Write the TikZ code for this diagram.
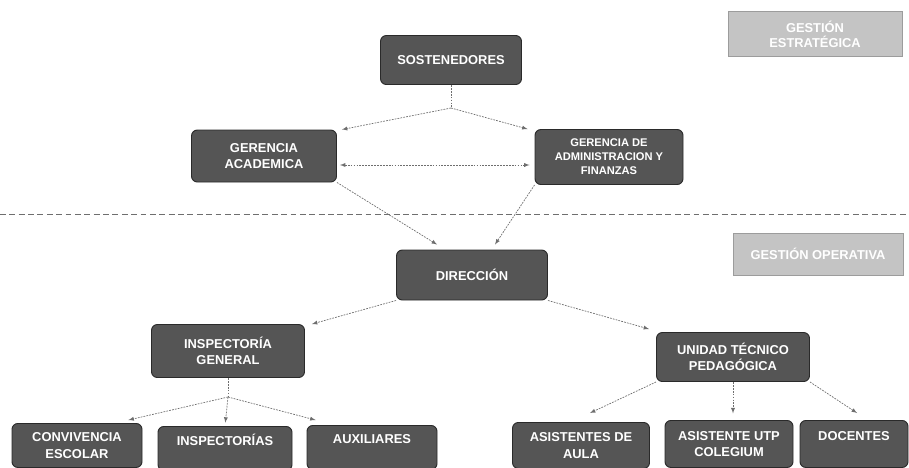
\documentclass[tikz,border=0pt]{standalone}
\usepackage{fontspec}
\setmainfont{Liberation Sans}
\usepackage{xcolor}
\usepackage{tikz}
\usetikzlibrary{shapes,arrows,positioning,fit,backgrounds}

\definecolor{boxgray}{HTML}{555555}
\definecolor{boxedge}{HTML}{2A2A2A}
\definecolor{taggray}{HTML}{C4C4C4}
\definecolor{tagedge}{HTML}{9C9C9C}
\definecolor{linegray}{HTML}{6E6E6E}

\begin{document}
\begin{tikzpicture}[x=0.03cm, y=-0.03cm,
        % Define styles for the chart
        dims/.style 2 args={
            minimum width=#1*0.03cm,
            minimum height=#2*0.03cm
        },
        box/.style={
            draw=boxedge,
            fill=boxgray,
            rectangle,
            thick,
            rounded corners=5pt,
            inner sep=1pt,
            align=center,
            text=white,
            font=\bfseries\fontsize{11}{14}\selectfont
        },
        leaf/.style={
            box,
            anchor=north
        },
        tag/.style={
            draw=tagedge,
            fill=taggray,
            rectangle,
            align=center,
            text=white,
            font=\bfseries\fontsize{11}{13}\selectfont
        },
        link/.style={
            draw=linegray,
            line width=0.6pt,
            dash pattern=on 1.5pt off 1pt
        },
        arrow/.style={
            link,
            ->,
            >=latex
        },
        separator/.style={
            draw=linegray,
            line width=0.7pt,
            dash pattern=on 5pt off 3pt
        }
    ]

    \useasboundingbox (0,0) rectangle (909,467);

    % Place management level
    \node[box, dims={141}{49}] (sost) at (451,60) {SOSTENEDORES};
    \node[box, dims={145}{52}] (ga) at (264,156) {GERENCIA\\ACADEMICA};
    \node[box, dims={148}{55}, font=\bfseries\fontsize{9.5}{12}\selectfont] (gaf) at (609,157) {GERENCIA DE\\ADMINISTRACION Y\\FINANZAS};

    % Place operational level
    \node[box, dims={151}{50}] (dir) at (472,275) {DIRECCIÓN};
    \node[box, dims={153}{53}] (ig) at (228,351) {INSPECTORÍA\\GENERAL};
    \node[box, dims={153}{49}] (utp) at (733,357) {UNIDAD TÉCNICO\\PEDAGÓGICA};

    % Place bottom row
    \node[leaf, dims={130}{44}] (conv) at (77,423) {CONVIVENCIA\\ESCOLAR};
    \node[leaf, dims={134}{44}] (insp) at (225,426) {INSPECTORÍAS\\\phantom{X}};
    \node[leaf, dims={130}{44}] (aux) at (372,425) {AUXILIARES\\\phantom{X}};
    \node[leaf, dims={137}{46}] (aa) at (581,422) {ASISTENTES DE\\AULA};
    \node[leaf, dims={128}{47}] (autp) at (729,420) {ASISTENTE UTP\\COLEGIUM};
    \node[leaf, dims={108}{47}] (doc) at (854,420) {DOCENTES\\\phantom{X}};

    % Place level tags
    \node[tag, dims={174}{45}] (strat) at (815,34) {GESTIÓN\\ESTRATÉGICA};
    \node[tag, dims={170}{42}] (oper) at (818,254) {GESTIÓN OPERATIVA};

    % Separator between levels
    \coordinate (sepL) at (0,214);
    \coordinate (sepR) at (909,214);
    \draw[separator] (sepL) -- (sepR);

    % Draw connections
    \coordinate (sostsplit) at (451,108);
    \draw[link] (sost) -- (sostsplit);
    \draw[arrow] (sostsplit) -- ([xshift=0.15cm]ga.north east);
    \draw[arrow] (sostsplit) -- ([xshift=-0.21cm]gaf.north west);
    \draw[arrow, <->] ([xshift=0.09cm, yshift=-0.27cm]ga.east) -- ([xshift=-0.15cm, yshift=-0.24cm]gaf.west);
    \draw[arrow] (ga.south east) -- ([xshift=-1.05cm, yshift=0.15cm]dir.north);
    \draw[arrow] (gaf.south west) -- ([xshift=0.69cm, yshift=0.15cm]dir.north);
    \draw[arrow] (dir.south west) -- ([xshift=0.21cm]ig.north east);
    \draw[arrow] (dir.south east) -- ([xshift=-0.21cm, yshift=0.09cm]utp.north west);

    \coordinate (igsplit) at (228,397);
    \draw[link] (ig) -- (igsplit);
    \draw[arrow] (igsplit) -- ([xshift=-0.42cm, yshift=0.09cm]conv.north east);
    \draw[arrow, shorten >=0.1cm] (igsplit) -- (insp.north);
    \draw[arrow] (igsplit) -- ([xshift=0.27cm, yshift=0.15cm]aux.north west);

    \draw[arrow] (utp.south west) -- ([xshift=0.27cm, yshift=0.27cm]aa.north);
    \draw[arrow, shorten >=0.2cm] (utp.south) -- (utp.south |- autp.north);
    \draw[arrow] (utp.south east) -- ([xshift=0.09cm, yshift=0.21cm]doc.north);

\end{tikzpicture}
\end{document}
